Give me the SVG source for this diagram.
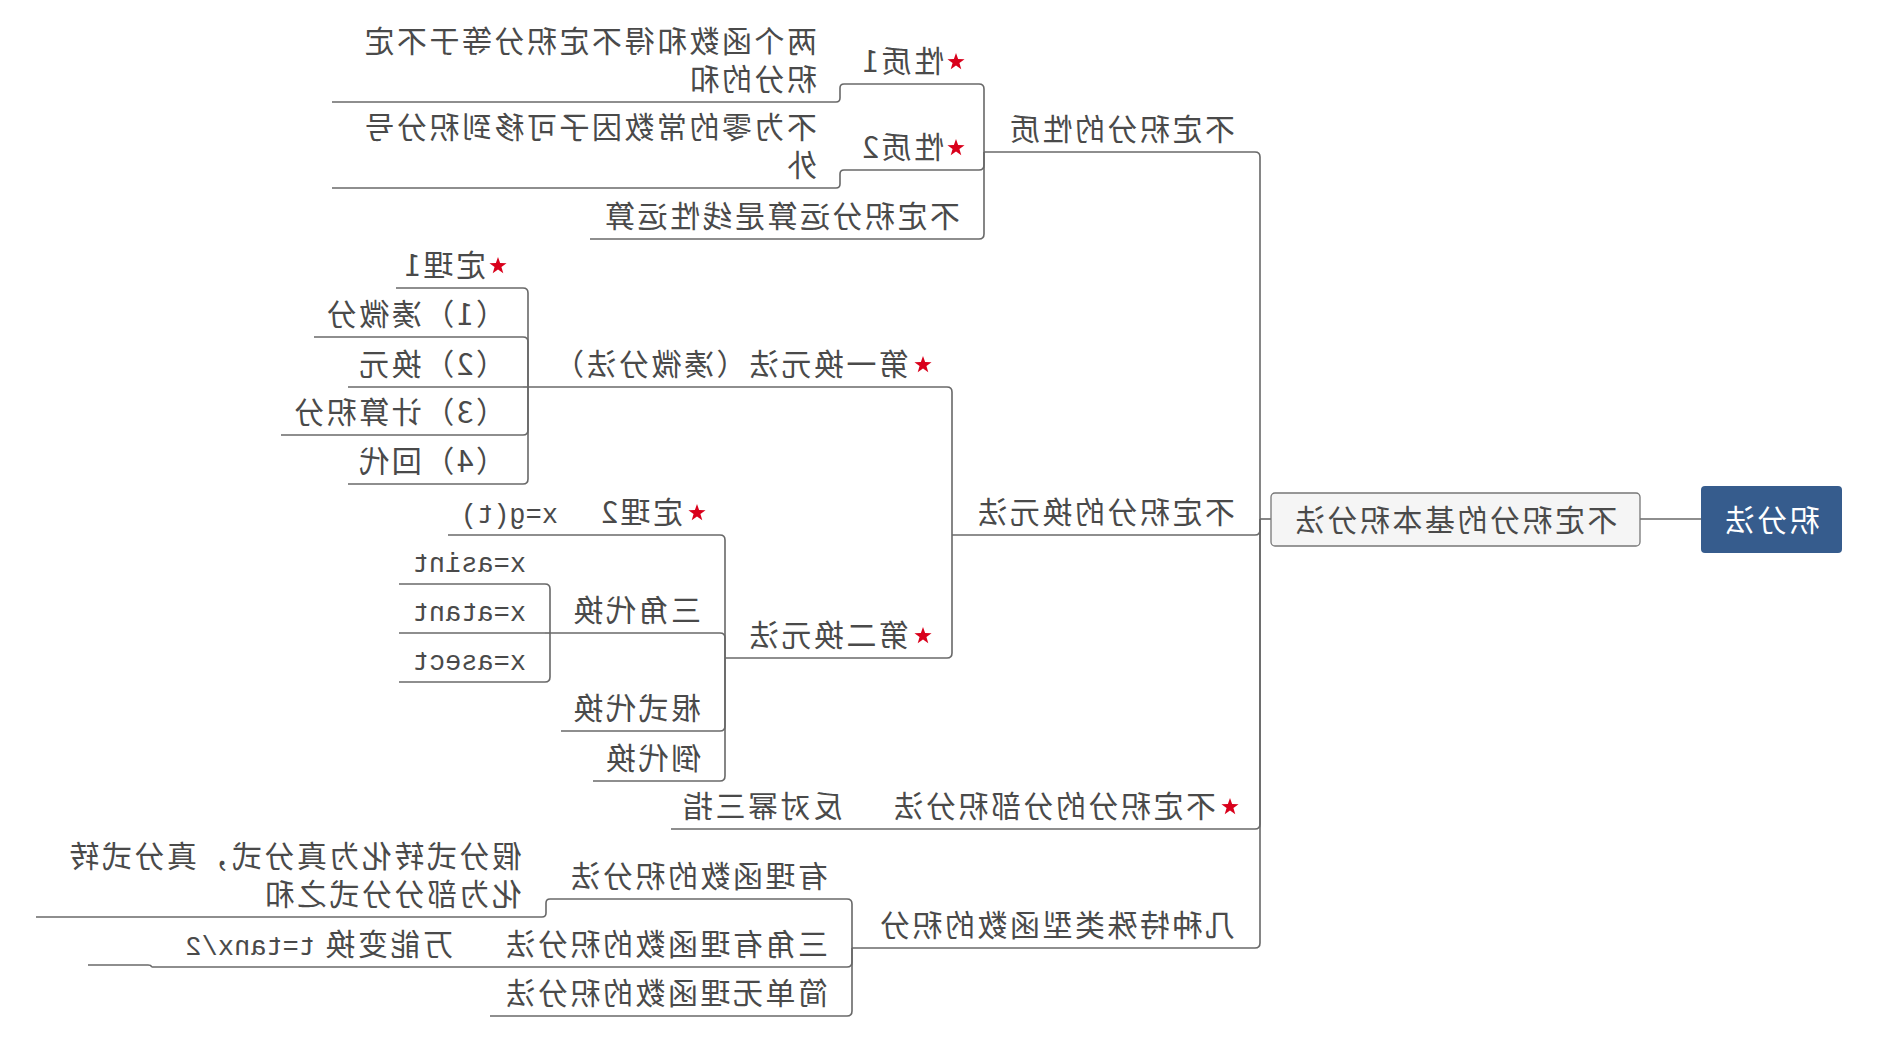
<svg xmlns="http://www.w3.org/2000/svg" width="1880" height="1037" viewBox="0 0 1880 1037">
<style>
.t{font-family:"Noto Sans CJK SC","Noto Sans",sans-serif;font-size:30px;letter-spacing:2.5px;fill:#4a4a4a}
.m{font-family:"Liberation Mono","Noto Sans CJK SC",monospace;font-size:27px;letter-spacing:0;fill:#4a4a4a}
.u{fill:none;stroke:#686868;stroke-width:1.6}
.c{fill:none;stroke:#686868;stroke-width:1.6}
.star{fill:#d9001b}
</style>
<defs>
<polygon id="star" class="star" points="0,-9 2.12,-2.91 8.56,-2.78 3.42,1.11 5.29,7.28 0,3.6 -5.29,7.28 -3.42,1.11 -8.56,-2.78 -2.12,-2.91"/>
</defs>
<rect width="1880" height="1037" fill="#ffffff"/>
<g transform="matrix(-1 0 0 1 1880 0)">
<g id="connectors">
<path class="c" d="M179,519 H240"/>
<path class="c" d="M609,519 H620"/>
<path class="c" d="M620,519 V157 Q620,152 625,152"/>
<path class="c" d="M620,519 V530 Q620,535 625,535"/>
<path class="c" d="M620,519 V824 Q620,829 625,829"/>
<path class="c" d="M620,519 V943 Q620,948 625,948"/>
<path class="c" d="M896,152 V89 Q896,84 901,84"/>
<path class="c" d="M896,152 V165 Q896,170 901,170"/>
<path class="c" d="M896,152 V234 Q896,239 901,239"/>
<path class="c" d="M1036,84 Q1040,84 1040,88 V98 Q1040,102 1044,102"/>
<path class="c" d="M1036,170 Q1040,170 1040,174 V184 Q1040,188 1044,188"/>
<path class="c" d="M928,535 V392 Q928,387 933,387"/>
<path class="c" d="M928,535 V653 Q928,658 933,658"/>
<path class="c" d="M1352,387 V293 Q1352,288 1357,288"/>
<path class="c" d="M1352,387 V342 Q1352,337 1357,337"/>
<path class="c" d="M1352,387 H1357"/>
<path class="c" d="M1352,387 V430 Q1352,435 1357,435"/>
<path class="c" d="M1352,387 V479 Q1352,484 1357,484"/>
<path class="c" d="M1155,658 V540 Q1155,535 1160,535"/>
<path class="c" d="M1155,658 V638 Q1155,633 1160,633"/>
<path class="c" d="M1155,658 V726 Q1155,731 1160,731"/>
<path class="c" d="M1155,658 V776 Q1155,781 1160,781"/>
<path class="c" d="M1330,633 V589 Q1330,584 1335,584"/>
<path class="c" d="M1330,633 H1335"/>
<path class="c" d="M1330,633 V677 Q1330,682 1335,682"/>
<path class="c" d="M1028,948 V904 Q1028,899 1033,899"/>
<path class="c" d="M1028,948 V962 Q1028,967 1033,967"/>
<path class="c" d="M1028,948 V1011 Q1028,1016 1033,1016"/>
<path class="c" d="M1330,899 Q1334,899 1334,903 V913 Q1334,917 1338,917"/>
<path class="c" d="M1726,967 Q1729,967 1729,966 Q1729,965 1732,965"/>
</g>

<g id="root">
<rect x="38" y="486" width="141" height="67" rx="4" fill="#365c8d"/>
<text class="t" x="109" y="531" text-anchor="middle" style="fill:#ffffff">积分法</text>
</g>
<g id="main">
<rect x="240" y="493" width="369" height="53" rx="4" fill="#f5f5f5" stroke="#777777" stroke-width="1.3"/>
<text class="t" x="425" y="531" text-anchor="middle">不定积分的基本积分法</text>
</g>

<g id="n-xingzhi">
<text class="t" x="645" y="140">不定积分的性质</text>
<path class="u" d="M625,152 H896"/>
</g>
<g id="n-xingzhi1">
<use href="#star" x="924" y="62"/>
<text class="t" x="936" y="72">性质1</text>
<path class="u" d="M901,84 H1036"/>
</g>
<g id="n-xingzhi1-a">
<text class="t" x="1063" y="52">两个函数和得不定积分等于不定<tspan x="1063" dy="38">积分的和</tspan></text>
<path class="u" d="M1044,102 H1548"/>
</g>
<g id="n-xingzhi2">
<use href="#star" x="924" y="148"/>
<text class="t" x="936" y="158">性质2</text>
<path class="u" d="M901,170 H1036"/>
</g>
<g id="n-xingzhi2-a">
<text class="t" x="1063" y="138">不为零的常数因子可移到积分号<tspan x="1063" dy="38">外</tspan></text>
<path class="u" d="M1044,188 H1548"/>
</g>
<g id="n-xianxing">
<text class="t" x="920" y="227">不定积分运算是线性运算</text>
<path class="u" d="M901,239 H1290"/>
</g>

<g id="n-huanyuan">
<text class="t" x="645" y="523">不定积分的换元法</text>
<path class="u" d="M625,535 H928"/>
</g>
<g id="n-diyi">
<use href="#star" x="957" y="365"/>
<text class="t" x="971" y="375">第一换元法（凑微分法）</text>
<path class="u" d="M933,387 H1352"/>
</g>
<g id="n-dingli1">
<use href="#star" x="1382" y="266"/>
<text class="t" x="1394" y="276">定理1</text>
<path class="u" d="M1357,288 H1484"/>
</g>
<g id="n-step1">
<text class="t" x="1374" y="325">（1）凑微分</text>
<path class="u" d="M1357,337 H1566"/>
</g>
<g id="n-step2">
<text class="t" x="1374" y="375">（2）换元</text>
<path class="u" d="M1357,387 H1532"/>
</g>
<g id="n-step3">
<text class="t" x="1374" y="423">（3）计算积分</text>
<path class="u" d="M1357,435 H1599"/>
</g>
<g id="n-step4">
<text class="t" x="1374" y="472">（4）回代</text>
<path class="u" d="M1357,484 H1532"/>
</g>
<g id="n-dier">
<use href="#star" x="957" y="636"/>
<text class="t" x="971" y="646">第二换元法</text>
<path class="u" d="M933,658 H1155"/>
</g>
<g id="n-dingli2">
<use href="#star" x="1183" y="513"/>
<text class="t" x="1197" y="523">定理2</text>
<text class="m" x="1322" y="523">x=g(t)</text>
<path class="u" d="M1160,535 H1432"/>
</g>
<g id="n-sanjiao">
<text class="t" x="1179" y="621">三角代换</text>
<path class="u" d="M1160,633 H1330"/>
</g>
<g id="n-asint">
<text class="m" x="1354" y="572">x=asint</text>
<path class="u" d="M1335,584 H1481"/>
</g>
<g id="n-atant">
<text class="m" x="1354" y="621">x=atant</text>
<path class="u" d="M1335,633 H1481"/>
</g>
<g id="n-asect">
<text class="m" x="1354" y="670">x=asect</text>
<path class="u" d="M1335,682 H1481"/>
</g>
<g id="n-genshi">
<text class="t" x="1179" y="719">根式代换</text>
<path class="u" d="M1160,731 H1319"/>
</g>
<g id="n-dao">
<text class="t" x="1179" y="769">倒代换</text>
<path class="u" d="M1160,781 H1287"/>
</g>

<g id="n-fenbu">
<use href="#star" x="650" y="807"/>
<text class="t" x="664" y="817">不定积分的分部积分法</text>
<text class="t" x="1037" y="817">反对幂三指</text>
<path class="u" d="M625,829 H1209"/>
</g>

<g id="n-jizhong">
<text class="t" x="645" y="936">几种特殊类型函数的积分</text>
<path class="u" d="M625,948 H1028"/>
</g>
<g id="n-youli">
<text class="t" x="1052" y="887">有理函数的积分法</text>
<path class="u" d="M1033,899 H1330"/>
</g>
<g id="n-youli-a">
<text class="t" x="1358" y="867">假分式转化为真分式，真分式转<tspan x="1358" dy="38">化为部分分式之和</tspan></text>
<path class="u" d="M1338,917 H1844"/>
</g>
<g id="n-sanjiaoyouli">
<text class="t" x="1052" y="955">三角有理函数的积分法</text>
<text class="t" x="1427" y="955">万能变换</text>
<text class="m" x="1565" y="955">t=tanx/2</text>
<path class="u" d="M1033,967 H1726"/>
</g>
<g id="n-wanneng">
<path class="u" d="M1732,965 H1792"/>
</g>
<g id="n-jiandan">
<text class="t" x="1052" y="1004">简单无理函数的积分法</text>
<path class="u" d="M1033,1016 H1390"/>
</g>
</g>
</svg>
